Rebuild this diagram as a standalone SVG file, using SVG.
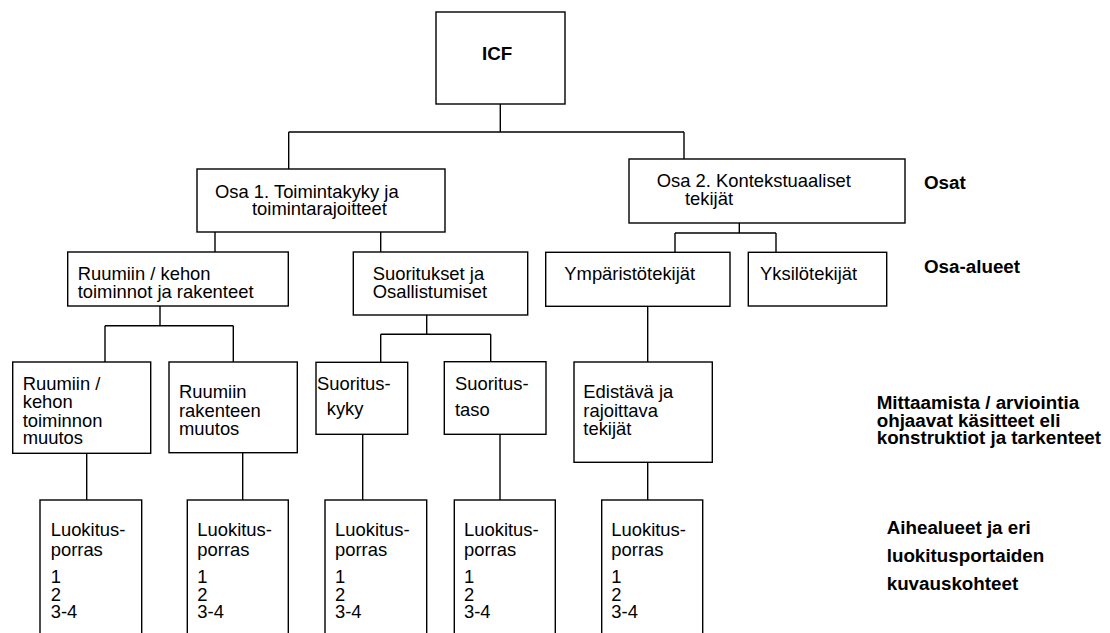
<svg xmlns="http://www.w3.org/2000/svg" width="1110" height="633" viewBox="0 0 1110 633">
<style>
rect{fill:#fff;stroke:#000;stroke-width:1.4}
.c line{stroke:#000;stroke-width:1.4}
text{font-family:"Liberation Sans",Arial,sans-serif;font-size:18.4px;fill:#000}
.b{font-weight:bold;font-size:18.8px}
</style>
<rect x="0" y="0" width="1110" height="633" style="stroke:none"/>
<g class="c" id="connectors">
<line x1="500.3" y1="104" x2="500.3" y2="132"/>
<line x1="288.7" y1="132" x2="684" y2="132"/>
<line x1="288.7" y1="132" x2="288.7" y2="169"/>
<line x1="684" y1="132" x2="684" y2="159"/>
<line x1="215" y1="232" x2="215" y2="252"/>
<line x1="380.7" y1="232" x2="380.7" y2="252"/>
<line x1="739.3" y1="223" x2="739.3" y2="233"/>
<line x1="675" y1="233" x2="776" y2="233"/>
<line x1="675" y1="233" x2="675" y2="252"/>
<line x1="776" y1="233" x2="776" y2="252"/>
<line x1="160" y1="306" x2="160" y2="325.7"/>
<line x1="105" y1="325.7" x2="233.3" y2="325.7"/>
<line x1="105" y1="325.7" x2="105" y2="362"/>
<line x1="233.3" y1="325.7" x2="233.3" y2="362"/>
<line x1="426.7" y1="315" x2="426.7" y2="334.3"/>
<line x1="380.7" y1="334.3" x2="490.7" y2="334.3"/>
<line x1="380.7" y1="334.3" x2="380.7" y2="362"/>
<line x1="490.7" y1="334.3" x2="490.7" y2="362"/>
<line x1="647.7" y1="306" x2="647.7" y2="362"/>
<line x1="86.7" y1="453" x2="86.7" y2="500"/>
<line x1="242.7" y1="453" x2="242.7" y2="500"/>
<line x1="362.7" y1="434" x2="362.7" y2="500"/>
<line x1="500" y1="434" x2="500" y2="500"/>
<line x1="647.7" y1="462" x2="647.7" y2="500"/>
</g>
<g id="icf"><rect x="436" y="12" width="129" height="92"/><text class="b" x="482" y="60">ICF</text></g>
<g id="osa1"><rect x="197" y="169" width="248" height="63"/><text x="215" y="197.5">Osa 1. Toimintakyky ja</text><text x="252" y="215">toimintarajoitteet</text></g>
<g id="osa2"><rect x="629" y="159" width="276" height="64"/><text x="656.7" y="187">Osa 2. Kontekstuaaliset</text><text x="685" y="205">tekijät</text></g>
<g id="ruumiin"><rect x="67.7" y="252" width="220.6" height="54"/><text x="77.7" y="280">Ruumiin / kehon</text><text x="77.7" y="297.7">toiminnot ja rakenteet</text></g>
<g id="suoritukset"><rect x="353.3" y="252" width="174.4" height="63"/><text x="372.7" y="280">Suoritukset ja</text><text x="372.7" y="297.7">Osallistumiset</text></g>
<g id="ymparisto"><rect x="545.7" y="252.3" width="184.3" height="54"/><text x="564.3" y="280">Ympäristötekijät</text></g>
<g id="yksilo"><rect x="748.3" y="252.3" width="138.4" height="53.7"/><text x="760" y="280">Yksilötekijät</text></g>
<g id="toiminnon-muutos"><rect x="12.7" y="362" width="138" height="91.3"/><text x="22.7" y="390">Ruumiin /</text><text x="22.7" y="408.3">kehon</text><text x="22.7" y="426.5">toiminnon</text><text x="22.7" y="443.5">muutos</text></g>
<g id="rakenteen-muutos"><rect x="169" y="362" width="128.3" height="90.7"/><text x="179" y="398.3">Ruumiin</text><text x="179" y="416.7">rakenteen</text><text x="179" y="435">muutos</text></g>
<g id="suorituskyky"><rect x="316" y="362.3" width="91.7" height="72"/><text x="317" y="390">Suoritus-</text><text x="326.7" y="415">kyky</text></g>
<g id="suoritustaso"><rect x="444.3" y="361.7" width="101.7" height="72.6"/><text x="455" y="389.5">Suoritus-</text><text x="455" y="416">taso</text></g>
<g id="edistava"><rect x="574" y="362" width="138.3" height="100.3"/><text x="583.3" y="398.3">Edistävä ja</text><text x="583.3" y="416.7">rajoittava</text><text x="583.3" y="435">tekijät</text></g>
<g id="luok1"><rect x="40" y="500" width="101.7" height="140"/><text x="50.7" y="536">Luokitus-</text><text x="50.7" y="555.5">porras</text><text x="50.7" y="583.3">1</text><text x="50.7" y="601">2</text><text x="50.7" y="618.3">3-4</text></g>
<g id="luok2"><rect x="187.3" y="500" width="101" height="140"/><text x="197.3" y="536">Luokitus-</text><text x="197.3" y="555.5">porras</text><text x="197.3" y="583.3">1</text><text x="197.3" y="601">2</text><text x="197.3" y="618.3">3-4</text></g>
<g id="luok3"><rect x="325" y="500" width="101.7" height="140"/><text x="335" y="536">Luokitus-</text><text x="335" y="555.5">porras</text><text x="335" y="583.3">1</text><text x="335" y="601">2</text><text x="335" y="618.3">3-4</text></g>
<g id="luok4"><rect x="454.3" y="500" width="101" height="140"/><text x="464" y="536">Luokitus-</text><text x="464" y="555.5">porras</text><text x="464" y="583.3">1</text><text x="464" y="601">2</text><text x="464" y="618.3">3-4</text></g>
<g id="luok5"><rect x="601.7" y="500" width="101" height="140"/><text x="611.3" y="536">Luokitus-</text><text x="611.3" y="555.5">porras</text><text x="611.3" y="583.3">1</text><text x="611.3" y="601">2</text><text x="611.3" y="618.3">3-4</text></g>
<g id="labels">
<text class="b" x="924" y="189">Osat</text>
<text class="b" x="924" y="273">Osa-alueet</text>
<text class="b" x="876.7" y="409">Mittaamista / arviointia</text>
<text class="b" x="876.7" y="427">ohjaavat käsitteet eli</text>
<text class="b" x="876.7" y="444">konstruktiot ja tarkenteet</text>
<text class="b" x="886.7" y="534">Aihealueet ja eri</text>
<text class="b" x="886.7" y="562">luokitusportaiden</text>
<text class="b" x="886.7" y="590">kuvauskohteet</text>
</g>
</svg>
